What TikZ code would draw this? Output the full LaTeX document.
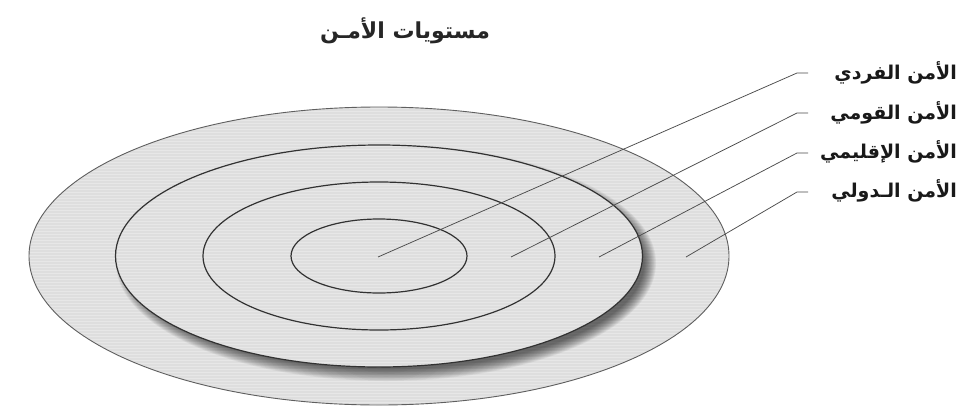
\documentclass[tikz,border=0pt]{standalone}
\usepackage{fontspec}
\usetikzlibrary{shapes.geometric}
\TeXXeTstate=1
\newfontfamily\arabicfont[Script=Arabic]{DejaVu Sans}
\definecolor{ringfill}{RGB}{222,222,222}
\definecolor{ringline}{RGB}{50,50,50}
\definecolor{outerline}{RGB}{95,95,95}
\begin{document}
\begin{tikzpicture}[x=1pt,y=-1pt,
  ring/.style={ellipse, inner sep=0pt, outer sep=0pt, draw=ringline, line width=1.2pt},
  leader/.style={draw=black!70, line width=0.75pt},
  lab/.style={inner sep=0pt, font=\arabicfont\bfseries\fontsize{19}{22}\selectfont, text=black!90},
  ttl/.style={inner sep=0pt, font=\arabicfont\bfseries\fontsize{22}{26}\selectfont, text=black!85}]
\useasboundingbox (0,0) rectangle (960,407);
\fill[white] (0,0) rectangle (960,407);
% outer ring
\node[ring, fill=ringfill, draw=outerline, line width=0.9pt, minimum width=700pt, minimum height=298pt] (outer) at (379,256) {};
% faint horizontal texture
\begin{scope}
  \clip (379,256) ellipse [x radius=349pt, y radius=148pt];
  \foreach \yy in {108,111,...,405}{
    \draw[white, opacity=0.28, line width=0.6pt] (20,\yy) -- (740,\yy);
  }
\end{scope}
% soft shadow of the second ring
\foreach \i in {0,...,13}{
  \pgfmathsetmacro{\rx}{270-\i*0.9}
  \pgfmathsetmacro{\ry}{118-\i*0.9}
  \fill[black, opacity=0.05] (386,263) ellipse [x radius=\rx pt, y radius=\ry pt];
}
\node[ring, draw=none, fill=ringfill, minimum width=527pt, minimum height=222pt] (secondfill) at (379,256) {};
\begin{scope}
  \clip (379,256) ellipse [x radius=262pt, y radius=110pt];
  \foreach \yy in {146,149,...,366}{
    \draw[white, opacity=0.28, line width=0.6pt] (110,\yy) -- (650,\yy);
  }
\end{scope}
\node[ring, minimum width=527pt, minimum height=222pt] (second) at (379,256) {};
\node[ring, minimum width=352pt, minimum height=148pt] (third) at (379,256) {};
\node[ring, minimum width=176pt, minimum height=74pt] (inner) at (379,256) {};
% title
\node[ttl, anchor=base] (title) at (405,38) {\beginR مستويات الأمـن\endR};
% labels
\node[lab, anchor=base east] (l1) at (957,79) {\beginR الأمن الفردي\endR};
\node[lab, anchor=base east] (l2) at (957,119) {\beginR الأمن القومي\endR};
\node[lab, anchor=base east] (l3) at (957,158) {\beginR الأمن الإقليمي\endR};
\node[lab, anchor=base east] (l4) at (957,197) {\beginR الأمن الـدولي\endR};
% leader points
\coordinate (p1) at (378,257);
\coordinate (p2) at (511,257);
\coordinate (p3) at (599,257);
\coordinate (p4) at (686,257);
\coordinate (k1) at (797,73);
\coordinate (k2) at (797,113);
\coordinate (k3) at (797,153);
\coordinate (k4) at (797,192);
\coordinate (e1) at (808,73);
\coordinate (e2) at (808,113);
\coordinate (e3) at (808,153);
\coordinate (e4) at (808,192);
\foreach \n in {1,2,3,4}{
  \draw[leader] (p\n) -- (k\n) -- (e\n);
}
\end{tikzpicture}
\end{document}
